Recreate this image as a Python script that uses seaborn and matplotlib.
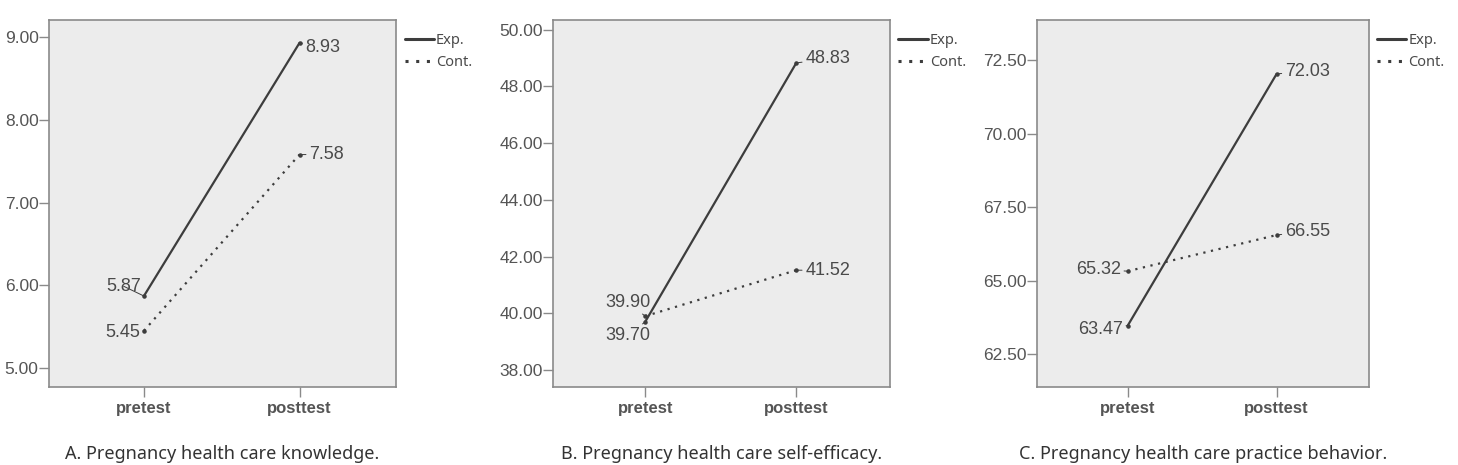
import pandas as pd
import seaborn as sns
import matplotlib.pyplot as plt

# values
phases = ['pretest', 'posttest']
groups = ['Exp.', 'Cont.']

knowledge_exp = [5.87, 8.93]
knowledge_cont = [5.45, 7.58]
efficacy_exp = [39.70, 48.83]
efficacy_cont = [39.90, 41.52]
practice_exp = [63.47, 72.03]
practice_cont = [65.32, 66.55]

knowledge_ticks = [5.0, 6.0, 7.0, 8.0, 9.0]
efficacy_ticks = [38.0, 40.0, 42.0, 44.0, 46.0, 48.0, 50.0]
practice_ticks = [62.5, 65.0, 67.5, 70.0, 72.5]

captions = ['A. Pregnancy health care knowledge.',
            'B. Pregnancy health care self-efficacy.',
            'C. Pregnancy health care practice behavior.']

sns.set_style('white')

line_col = '#3d3d3d'
text_col = '#4a4a4a'

panels = [
    dict(exp=knowledge_exp, cont=knowledge_cont, ticks=knowledge_ticks, ylim=(4.77, 9.205),
         rect=[0.0336, 0.1677, 0.238, 0.789],
         # label offsets in points: (exp pre, exp post, cont pre, cont post)
         offs=[(-2, 7), (4.3, -3.5), (-3, -1.5), (7, 0)],
         ha=['right', 'left', 'right', 'left']),
    dict(exp=efficacy_exp, cont=efficacy_cont, ticks=efficacy_ticks, ylim=(37.4, 50.34),
         rect=[0.3793, 0.1677, 0.2311, 0.789],
         offs=[(3.6, -10), (6.5, 3), (3.6, 10), (6.5, 0)],
         ha=['right', 'left', 'right', 'left']),
    dict(exp=practice_exp, cont=practice_cont, ticks=practice_ticks, ylim=(61.38, 73.86),
         rect=[0.7112, 0.1677, 0.2277, 0.789],
         offs=[(-3.6, -2.6), (6, 2), (-5, 1.3), (6, 2.7)],
         ha=['right', 'left', 'right', 'left']),
]

fig = plt.figure(figsize=(14.58, 4.65), dpi=100)

for p, cap in zip(panels, captions):
    ax = fig.add_axes(p['rect'])
    df = pd.DataFrame({
        'phase': phases * 2,
        'score': p['exp'] + p['cont'],
        'group': [groups[0]] * 2 + [groups[1]] * 2,
    })
    sns.lineplot(data=df, x='phase', y='score', hue='group', style='group',
                 palette={'Exp.': line_col, 'Cont.': line_col},
                 dashes={'Exp.': '', 'Cont.': (1, 2.5)},
                 linewidth=1.6, sort=False, ax=ax)
    ax.scatter([0, 1, 0, 1], p['exp'] + p['cont'], s=5, color=line_col, zorder=3)

    ax.set_facecolor('#ececec')
    for s in ax.spines.values():
        s.set_color('#8a8a8a')
        s.set_linewidth(1.2)
    ax.set_xlim(-0.61, 1.62)
    ax.set_ylim(*p['ylim'])
    ax.set_yticks(p['ticks'])
    ax.set_yticklabels(['%.2f' % t for t in p['ticks']])
    ax.set_xticks([0, 1])
    ax.set_xticklabels(phases, fontweight='bold')
    ax.tick_params(axis='y', direction='out', length=7, width=1, color='#8a8a8a',
                   labelsize=12.5, labelcolor='#555555', pad=0.5, left=True)
    ax.tick_params(axis='x', direction='out', length=7, width=1, color='#8a8a8a',
                   labelsize=12, labelcolor='#555555', pad=3, bottom=True)
    for lab in ax.get_yticklabels() + ax.get_xticklabels():
        lab.set_family('Liberation Sans')
    ax.set_xlabel('')
    ax.set_ylabel('')

    vals = p['exp'] + p['cont']
    xs = [0, 1, 0, 1]
    for x, v, off, ha in zip(xs, vals, p['offs'], p['ha']):
        ax.annotate('%.2f' % v, xy=(x, v), xytext=off, textcoords='offset points',
                    ha=ha, va='center', fontsize=13, color=text_col,
                    family='Liberation Sans',
                    arrowprops=dict(arrowstyle='-', color=line_col, lw=0.7,
                                    shrinkA=0, shrinkB=0))

    handles, labels = ax.get_legend_handles_labels()
    ax.legend(handles, labels, loc='upper left', bbox_to_anchor=(1.025, 0.965),
              frameon=False, handlelength=2.0, handletextpad=0.15,
              labelspacing=0.5, borderpad=0, borderaxespad=0,
              prop={'family': 'Noto Sans', 'size': 10.5})
    for t in ax.get_legend().get_texts():
        t.set_color(text_col)
    for h in ax.get_legend().legend_handles:
        h.set_linewidth(2.2)

    r = p['rect']
    fig.text(r[0] + r[2] / 2, 1 - 445 / 465, cap, ha='center', va='top',
             fontsize=13, family='Noto Sans', fontweight='light', color='#333333')

fig.savefig('out.png', dpi=100)
